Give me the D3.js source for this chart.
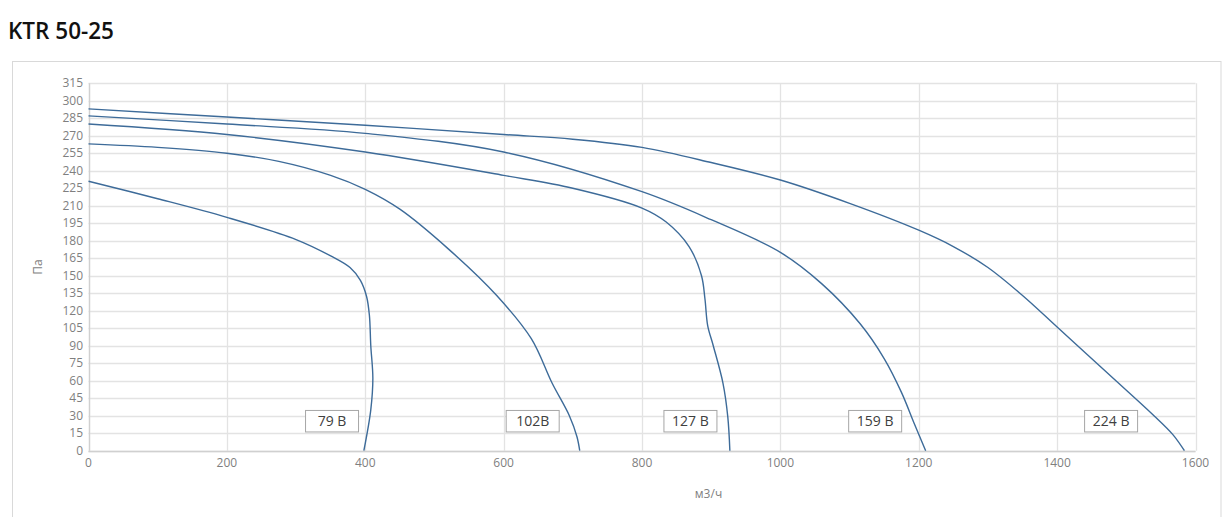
<!DOCTYPE html>
<html>
<head>
<meta charset="utf-8">
<script src="https://cdn.jsdelivr.net/npm/d3@7"></script>
<style>
  html, body { margin: 0; padding: 0; background: #fff; }
  svg { display: block; }
</style>
</head>
<body>
<svg id="chart" width="1222" height="517"></svg>
<script>
const title = "KTR 50-25";
const xTicks = [0, 200, 400, 600, 800, 1000, 1200, 1400, 1600];
const yTicks = [0, 15, 30, 45, 60, 75, 90, 105, 120, 135, 150, 165, 180, 195, 210, 225, 240, 255, 270, 285, 300, 315];
const xAxisTitle = "м3/ч";
const yAxisTitle = "Па";

const series79 = [[0,231],[100,216],[200,200],[300,181],[350,167],[378,157],[393,146],[402,132],[406,116],[408,90],[411,62],[408,35],[398,0]];
const series102 = [[0,263],[100,260],[200,255],[275,248],[350,236],[400,224],[450,207],[520,173],[590,133],[640,96],[670,58],[695,30],[706,12],[710,0]];
const series127 = [[0,280],[200,271],[400,256],[600,236],[700,225],[800,208],[835,196],[868,175],[886,150],[891,130],[895,107],[903,90],[917,58],[924,29],[927,0]];
const series159 = [[0,287],[200,280],[400,272],[600,256],[800,222],[900,198],[1000,170],[1060,143],[1115,109],[1150,79],[1175,50],[1193,24],[1210,0]];
const series224 = [[0,293],[200,286],[400,279],[600,271],[700,267],[800,260],[900,247],[1000,232],[1100,212],[1200,189],[1250,175],[1300,157],[1350,133],[1400,106],[1485,60],[1540,30],[1567,14],[1584,0]];

const seriesNames = ["79 В", "102В", "127 В", "159 В", "224 В"];
const labelX = [352, 642, 870, 1137, 1478];
const labelY = [25.5, 25.5, 25.5, 25.5, 25.5];

const allSeries = [series79, series102, series127, series159, series224];

const svg = d3.select("#chart");
const W = 1222, H = 517;

// outer chart border
svg.append("rect")
  .attr("x", 12.5).attr("y", 61.5)
  .attr("width", W - 13.5).attr("height", H)
  .attr("fill", "#fff").attr("stroke", "#d9d9d9").attr("stroke-width", 1);

// title
svg.append("text")
  .attr("x", 8).attr("y", 38.5)
  .attr("font-family", "'Open Sans', sans-serif")
  .attr("font-weight", 600)
  .attr("font-size", 22.5)
  .attr("fill", "#111")
  .text(title);

const x = d3.scaleLinear().domain([0, 1600]).range([88.5, 1195.5]);
const y = d3.scaleLinear().domain([0, 315]).range([450.7, 83.2]);

const font = "'Open Sans', sans-serif";
const tickColor = "#7f7f7f";
const gridColor = "#e3e3e3";

// horizontal grid
svg.append("g").selectAll("line").data(yTicks).join("line")
  .attr("x1", x(0)).attr("x2", x(1600))
  .attr("y1", d => Math.round(y(d)) + 0.5).attr("y2", d => Math.round(y(d)) + 0.5)
  .attr("stroke", gridColor).attr("stroke-width", 1.3);

// vertical grid
svg.append("g").selectAll("line").data(xTicks).join("line")
  .attr("x1", d => Math.round(x(d)) + 0.5).attr("x2", d => Math.round(x(d)) + 0.5)
  .attr("y1", y(315)).attr("y2", y(0))
  .attr("stroke", gridColor).attr("stroke-width", 1.3);

// axis lines
svg.append("line")
  .attr("x1", x(0)).attr("x2", x(1600))
  .attr("y1", Math.round(y(0)) + 0.5).attr("y2", Math.round(y(0)) + 0.5)
  .attr("stroke", "#d0d0d0").attr("stroke-width", 1.3);
svg.append("line")
  .attr("x1", Math.round(x(0)) + 0.5).attr("x2", Math.round(x(0)) + 0.5)
  .attr("y1", y(315)).attr("y2", y(0))
  .attr("stroke", "#d0d0d0").attr("stroke-width", 1.3);

// y tick labels
svg.append("g").selectAll("text").data(yTicks).join("text")
  .attr("x", 83).attr("y", d => y(d))
  .attr("dy", "0.35em")
  .attr("text-anchor", "end")
  .attr("font-family", font).attr("font-size", 12)
  .attr("fill", tickColor)
  .text(d => d);

// x tick labels
svg.append("g").selectAll("text").data(xTicks).join("text")
  .attr("x", d => x(d)).attr("y", 463)
  .attr("dy", "0.35em")
  .attr("text-anchor", "middle")
  .attr("font-family", font).attr("font-size", 12)
  .attr("fill", tickColor)
  .text(d => d);

// axis titles
svg.append("text")
  .attr("x", 708.5).attr("y", 494).attr("dy", "0.35em")
  .attr("text-anchor", "middle")
  .attr("font-family", font).attr("font-size", 12)
  .attr("fill", tickColor)
  .text(xAxisTitle);

svg.append("text")
  .attr("transform", "translate(37.5,267) rotate(-90)")
  .attr("dy", "0.35em")
  .attr("text-anchor", "middle")
  .attr("font-family", font).attr("font-size", 12)
  .attr("fill", tickColor)
  .text(yAxisTitle);

// curves
const line = d3.line()
  .x(d => x(d[0])).y(d => y(d[1]))
  .curve(d3.curveCatmullRom.alpha(0.5));

svg.append("g").selectAll("path").data(allSeries).join("path")
  .attr("d", line)
  .attr("fill", "none")
  .attr("stroke", "#3d6b99")
  .attr("stroke-width", 1.4);

// labels
const lbl = svg.append("g").selectAll("g").data(seriesNames).join("g")
  .attr("transform", (d, i) => `translate(${x(labelX[i])},${y(labelY[i])})`);
lbl.append("rect")
  .attr("x", -26.5).attr("y", -10.5)
  .attr("width", 53).attr("height", 21.5)
  .attr("fill", "#fff").attr("stroke", "#a6a6a6").attr("stroke-width", 1);
lbl.append("text")
  .attr("text-anchor", "middle").attr("dy", "0.36em")
  .attr("font-family", font).attr("font-size", 14)
  .attr("fill", "#404040")
  .text(d => d);
</script>
</body>
</html>
